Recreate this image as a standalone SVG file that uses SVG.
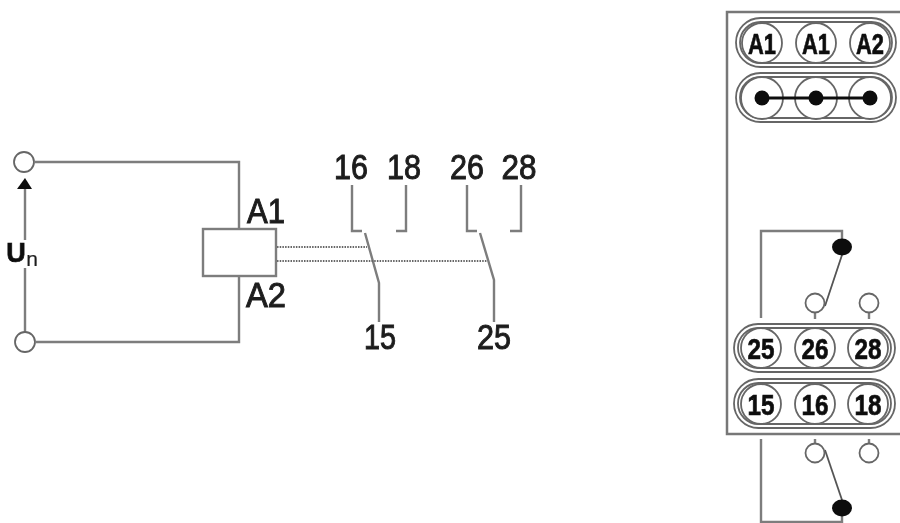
<svg xmlns="http://www.w3.org/2000/svg" width="900" height="523" viewBox="0 0 900 523">
<style>
.w{fill:none;stroke:#7d7d7d;stroke-width:2.4}
.d{fill:none;stroke:#666;stroke-width:2;stroke-dasharray:1.5 1.2}
.c{fill:#fff;stroke:#666;stroke-width:1.8}
.k{fill:#111;stroke:none}
.l{font-family:"Liberation Sans",Arial,sans-serif;font-size:35px;fill:#1c1c1c;stroke:#1c1c1c;stroke-width:1;text-anchor:middle}
.b{font-family:"Liberation Sans",Arial,sans-serif;font-weight:bold;font-size:30px;fill:#111;stroke:#111;stroke-width:.7;text-anchor:middle}
</style>
<defs><filter id="s" x="-5%" y="-5%" width="110%" height="110%"><feGaussianBlur stdDeviation="0.45"/></filter></defs>
<rect width="900" height="523" fill="#fff"/>
<g filter="url(#s)">
<g id="connectors">
<path class="w" d="M35 162H239V230M239 276V342H36M25 333V268M25 240V186"/>
<path class="k" d="M25 178L32 189H17Z"/>
<path class="w" d="M352 185V231H362M406 185V231H396M467 185V231H477M521 185V231H510M365 233L379 283V322M480 233L494 280V322"/>
<path class="d" d="M277 247H367M277 261H487"/>
</g>
<g id="supply-top"><circle class="c" cx="24" cy="162" r="10"/></g>
<g id="supply-bottom"><circle class="c" cx="25" cy="342" r="10"/></g>
<g id="label-un"><text x="16" y="262" class="b" style="font-size:27px">U</text><text x="32" y="266" class="l" style="font-size:21px;stroke-width:.2">n</text></g>
<g id="coil"><rect x="203" y="229" width="73" height="47" fill="none" stroke="#7d7d7d" stroke-width="2.4"/>
<text x="266" y="223" class="l" textLength="38" lengthAdjust="spacingAndGlyphs">A1</text><text x="266" y="307" class="l" textLength="40" lengthAdjust="spacingAndGlyphs">A2</text></g>
<g id="contact-labels">
<text x="351" y="179" class="l" textLength="34" lengthAdjust="spacingAndGlyphs">16</text><text x="404" y="179" class="l" textLength="34" lengthAdjust="spacingAndGlyphs">18</text><text x="467" y="179" class="l" textLength="34" lengthAdjust="spacingAndGlyphs">26</text><text x="519" y="179" class="l" textLength="35" lengthAdjust="spacingAndGlyphs">28</text>
<text x="380" y="349" class="l" textLength="32" lengthAdjust="spacingAndGlyphs">15</text><text x="494" y="349" class="l" textLength="34" lengthAdjust="spacingAndGlyphs">25</text>
</g>
<g id="panel">
<path d="M900 12H727V434H900" fill="none" stroke="#777" stroke-width="2.5"/>
</g>
<g id="terminals-a">
<rect class="c" x="736" y="18" width="160" height="49" rx="24.5"/><rect class="c" x="740" y="22" width="152" height="41" rx="20.5" stroke-width="1.3"/>
<circle class="c" cx="762" cy="43" r="20"/><circle class="c" cx="816" cy="43" r="20"/><circle class="c" cx="870" cy="43" r="20"/>
<text class="b" x="762" y="54" textLength="28" lengthAdjust="spacingAndGlyphs">A1</text><text class="b" x="816" y="54" textLength="28" lengthAdjust="spacingAndGlyphs">A1</text><text class="b" x="870" y="54" textLength="28" lengthAdjust="spacingAndGlyphs">A2</text>
</g>
<g id="terminals-bridge">
<rect class="c" x="736" y="73" width="160" height="49" rx="24.5"/><rect class="c" x="740" y="77" width="152" height="41" rx="20.5" stroke-width="1.3"/>
<circle class="c" cx="762" cy="98" r="21"/><circle class="c" cx="816" cy="98" r="21"/><circle class="c" cx="870" cy="98" r="21"/>
<path d="M762 98H870" stroke="#111" stroke-width="3"/>
<circle class="k" cx="762" cy="98" r="7.5"/><circle class="k" cx="816" cy="98" r="7.5"/><circle class="k" cx="870" cy="98" r="7.5"/>
</g>
<g id="contact-upper">
<path class="w" d="M761 318V231H842V240"/>
<path d="M842 255L825 306" stroke="#555" stroke-width="1.8"/>
<path class="w" d="M815 313V319M869 313V319"/>
<circle class="c" cx="815" cy="303" r="9.5"/><circle class="c" cx="869" cy="303" r="9.5"/>
<ellipse class="k" cx="842" cy="247" rx="10" ry="8.5"/>
</g>
<g id="terminals-25">
<rect class="c" x="734" y="324" width="161" height="48" rx="24"/><rect class="c" x="738" y="328" width="153" height="40" rx="20" stroke-width="1.3"/>
<circle class="c" cx="761" cy="348" r="20"/><circle class="c" cx="815" cy="348" r="20"/><circle class="c" cx="868" cy="348" r="20"/>
<text class="b" x="761" y="359" textLength="27" lengthAdjust="spacingAndGlyphs">25</text><text class="b" x="815" y="359" textLength="27" lengthAdjust="spacingAndGlyphs">26</text><text class="b" x="868" y="359" textLength="27" lengthAdjust="spacingAndGlyphs">28</text>
</g>
<g id="terminals-15">
<rect class="c" x="734" y="379" width="161" height="49" rx="24.5"/><rect class="c" x="738" y="383" width="153" height="41" rx="20.5" stroke-width="1.3"/>
<circle class="c" cx="761" cy="404" r="20"/><circle class="c" cx="815" cy="404" r="20"/><circle class="c" cx="868" cy="404" r="20"/>
<text class="b" x="761" y="415" textLength="27" lengthAdjust="spacingAndGlyphs">15</text><text class="b" x="815" y="415" textLength="27" lengthAdjust="spacingAndGlyphs">16</text><text class="b" x="868" y="415" textLength="27" lengthAdjust="spacingAndGlyphs">18</text>
</g>
<g id="contact-lower">
<path class="w" d="M761 439V522H842V516"/>
<path d="M825 450L842 500" stroke="#555" stroke-width="1.8"/>
<path class="w" d="M815 439V447M869 439V447"/>
<circle class="c" cx="815" cy="453" r="9.5"/><circle class="c" cx="869" cy="453" r="9.5"/>
<ellipse class="k" cx="842" cy="508" rx="10" ry="8.5"/>
</g>
</g>
</svg>
